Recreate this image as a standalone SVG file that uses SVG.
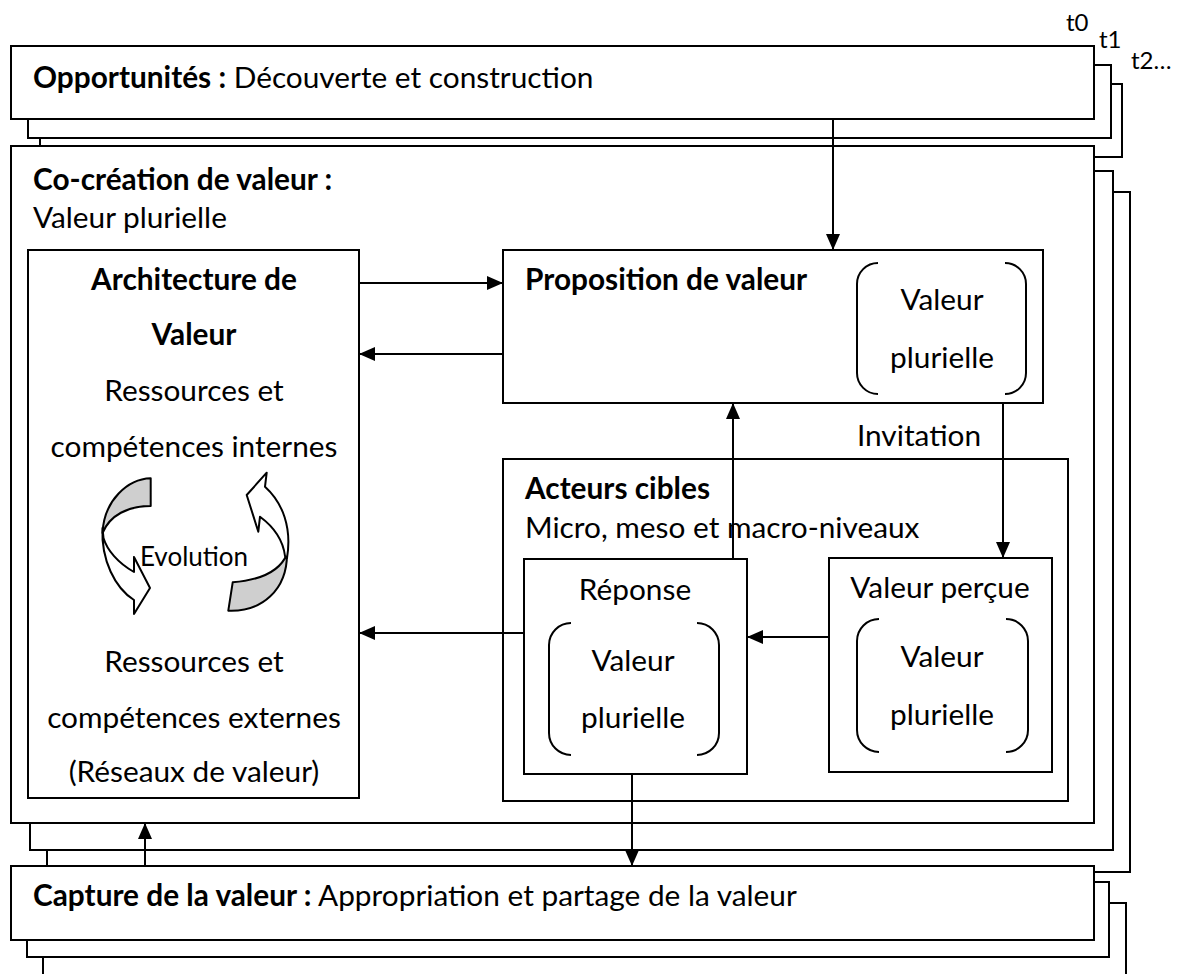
<svg xmlns="http://www.w3.org/2000/svg" width="1181" height="974" viewBox="0 0 1181 974">
<defs>
<marker id="ah" markerUnits="userSpaceOnUse" markerWidth="16" markerHeight="14" refX="16" refY="7" orient="auto"><path d="M0,0 L16,7 L0,14 Z" fill="#000"/></marker>
</defs>
<style>
.box{fill:#fff;stroke:#000;stroke-width:2}
.br{fill:none;stroke:#000;stroke-width:2}
.t{font-family:Lato,'Liberation Sans',sans-serif;font-size:29.8px;fill:#000}
.b{font-weight:bold}
.c{text-anchor:middle}
.ts{font-size:24px}
.te{font-size:26px}
.con{fill:none;stroke:#000;stroke-width:2;marker-end:url(#ah)}
.ev{stroke:#000;stroke-width:2;stroke-linejoin:round}
</style>
<rect width="1181" height="974" fill="#fff"/>

<g id="timeline">
<text class="t ts" x="1066" y="31">t0</text>
<text class="t ts" x="1099" y="48">t1</text>
<text class="t ts" x="1131" y="69">t2…</text>
</g>

<g id="opportunites">
<rect class="box" x="40" y="84" width="1082" height="73"/>
<rect class="box" x="28" y="65" width="1083" height="73"/>
<rect class="box" x="11" y="46" width="1083" height="73"/>
<text class="t" x="33" y="88"><tspan class="b">Opportunités :</tspan> Découverte et construction</text>
</g>

<g id="co-creation">
<rect class="box" x="47" y="192" width="1083" height="680"/>
<rect class="box" x="30" y="171" width="1083" height="679"/>
<rect class="box" x="11" y="146" width="1083" height="677"/>
<text class="t b" x="33" y="190">Co-création de valeur :</text>
<text class="t" x="33" y="228">Valeur plurielle</text>
</g>

<g id="capture">
<rect class="box" x="43" y="903" width="1083" height="90"/>
<rect class="box" x="27" y="882" width="1082" height="75"/>
<rect class="box" x="11" y="866" width="1083" height="74"/>
<text class="t" x="33" y="906"><tspan class="b">Capture de la valeur :</tspan> Appropriation et partage de la valeur</text>
</g>

<g id="architecture">
<rect class="box" x="28" y="250" width="331" height="548"/>
<text class="t b c" x="194" y="290">Architecture de</text>
<text class="t b c" x="194" y="345">Valeur</text>
<text class="t c" x="194" y="401">Ressources et</text>
<text class="t c" x="194" y="457">compétences internes</text>
<text class="t c" x="194" y="672">Ressources et</text>
<text class="t c" x="194" y="728">compétences externes</text>
<text class="t c" x="194" y="782">(Réseaux de valeur)</text>
</g>

<g id="evolution">
<path class="ev" fill="#cfcfcf" d="M150.7,478.3 C128,479 104,500 102.5,533 C110,515 128,506 150.7,506 Z"/>
<path class="ev" fill="#fff" d="M102.5,528 C101,560 115,588 134,600 L134,614 L150,588 L134,557 L134,572 C118,563 107,550 103.5,538 Z"/>
<path class="ev" fill="#cfcfcf" d="M228.3,610.7 C262,612 287,590 287,554 C280,571 262,580 232.7,582.3 Z"/>
<path class="ev" fill="#fff" d="M287,558 C292,528 283,503 265,486.7 L266.7,472.7 L246.7,495 L258.3,531.7 L260,516.7 C274,527 283,540 285,556 Z"/>
<text class="t te c" x="194" y="566">Evolution</text>
</g>

<g id="proposition">
<rect class="box" x="503" y="250" width="540" height="153"/>
<text class="t b" x="525" y="290">Proposition de valeur</text>
<path class="br" d="M878,263 A21,21 0 0 0 857,284 V373 A21,21 0 0 0 878,394"/>
<path class="br" d="M1005,263 A21,21 0 0 1 1026,284 V373 A21,21 0 0 1 1005,394"/>
<text class="t c" x="942" y="310">Valeur</text>
<text class="t c" x="942" y="368">plurielle</text>
</g>

<g id="acteurs-cibles">
<rect class="box" x="503" y="459" width="565" height="342"/>
<text class="t b" x="525" y="499">Acteurs cibles</text>
<text class="t" x="525" y="538">Micro, meso et macro-niveaux</text>
</g>

<g id="reponse">
<rect class="box" x="524" y="559" width="223" height="215"/>
<text class="t c" x="635" y="600">Réponse</text>
<path class="br" d="M571,623 A22,22 0 0 0 549,645 V733 A22,22 0 0 0 571,755"/>
<path class="br" d="M697,623 A22,22 0 0 1 719,645 V733 A22,22 0 0 1 697,755"/>
<text class="t c" x="633" y="671">Valeur</text>
<text class="t c" x="633" y="728">plurielle</text>
</g>

<g id="valeur-percue">
<rect class="box" x="829" y="558" width="223" height="214"/>
<text class="t c" x="940" y="598">Valeur perçue</text>
<path class="br" d="M879,619 A22,22 0 0 0 857,641 V730 A22,22 0 0 0 879,752"/>
<path class="br" d="M1006,619 A22,22 0 0 1 1028,641 V730 A22,22 0 0 1 1006,752"/>
<text class="t c" x="942" y="667">Valeur</text>
<text class="t c" x="942" y="725">plurielle</text>
</g>

<g id="connectors">
<path class="con" d="M833,119 V250"/>
<path class="con" d="M359,283 H503"/>
<path class="con" d="M503,354 H359"/>
<path class="con" d="M733,559 V403"/>
<path class="con" d="M1003,403 V558"/>
<path class="con" d="M829,637 H747"/>
<path class="con" d="M524,633 H359"/>
<path class="con" d="M632,774 V866"/>
<path class="con" d="M145,866 V823"/>
<text class="t c" x="919" y="446">Invitation</text>
</g>
</svg>
